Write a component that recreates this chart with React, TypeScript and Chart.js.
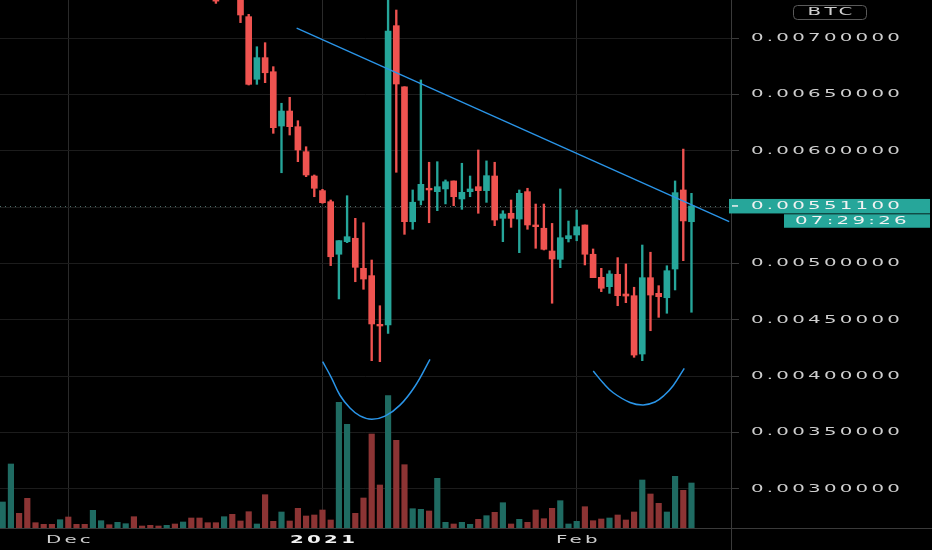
import React, { useEffect, useRef } from 'react';
import { Chart, registerables } from 'chart.js';

Chart.register(...registerables);

// ---- data (day index 0 = 1 Dec 2020) ----
const volumeStartDay = -8;
const volumes = [
  26, 64, 14.7, 29.7, 5.3, 3.7, 3.7, 8.3,
  11, 3.7, 3.7, 17.7, 7.3, 3.3, 5.7, 4.3, 11.3, 2,
  2.7, 2, 2.7, 4, 6, 10, 10, 5.3, 5.3, 11.3,
  13.7, 7, 16.3, 4, 33.3, 6.7, 16, 7, 19.7, 12,
  13, 18, 8, 125.7, 103.7, 14.7, 30, 94, 43, 132.3,
  87.7, 63.3, 19.3, 18.7, 17, 49.7, 5.7, 4, 5.7, 3.7,
  8.7, 12.3, 15.7, 25.3, 4, 8.7, 5.7, 18, 9.3, 19.7,
  27.3, 4, 6.7, 21.3, 7.3, 9, 10, 13, 8, 16,
  48, 34, 24.7, 16, 51.7, 37.7, 45,
];
const volumeUp = [
  1, 1, 0, 0, 0, 0, 0, 1,
  0, 0, 0, 1, 1, 0, 1, 1, 0, 0,
  0, 0, 1, 0, 1, 0, 0, 0, 0, 1,
  0, 0, 0, 1, 0, 0, 1, 0, 0, 0,
  0, 0, 0, 1, 1, 0, 0, 0, 0, 1,
  0, 0, 1, 1, 0, 1, 1, 0, 1, 1,
  0, 1, 0, 1, 0, 1, 0, 0, 0, 0,
  1, 1, 1, 0, 0, 0, 1, 0, 0, 0,
  1, 0, 0, 1, 1, 0, 1,
];

const candleStartDay = 18;
const opens = [
  0.00745, 0.00738, 0.00755, 0.0074, 0.007192, 0.006636, 0.006828, 0.006703, 0.006221, 0.006354,
  0.006215, 0.005993, 0.005777, 0.005647, 0.005549, 0.005082, 0.005194, 0.005224, 0.004957, 0.004892,
  0.00446, 0.004454, 0.007112, 0.00657, 0.005371, 0.005561, 0.005668, 0.005638, 0.005662, 0.005733,
  0.005573, 0.005638, 0.005682, 0.005647, 0.005777, 0.005401, 0.005446, 0.005395, 0.005638, 0.005342,
  0.005313, 0.005111, 0.005037, 0.00522, 0.005253, 0.005342, 0.005082, 0.004877, 0.004794, 0.004904,
  0.004729, 0.004714, 0.004196, 0.004874, 0.004735, 0.004696, 0.004951, 0.005653, 0.005371,
];
const highs = [
  0.0075, 0.0077, 0.00762, 0.00742, 0.007213, 0.006925, 0.006961, 0.006748, 0.006423, 0.006476,
  0.006268, 0.006037, 0.005786, 0.005659, 0.005564, 0.005203, 0.005602, 0.005401, 0.005362, 0.005031,
  0.004625, 0.00745, 0.007251, 0.00657, 0.005653, 0.00663, 0.005899, 0.005904, 0.005742, 0.005733,
  0.00589, 0.005777, 0.006008, 0.005911, 0.005899, 0.005469, 0.005564, 0.005653, 0.005668, 0.005528,
  0.005528, 0.005356, 0.005662, 0.005377, 0.005475, 0.005342, 0.005129, 0.004957, 0.004936, 0.005052,
  0.004996, 0.004789, 0.005164, 0.0051, 0.004803, 0.00498, 0.005733, 0.006016, 0.005623,
];
const lows = [
  0.00731, 0.00736, 0.00737, 0.007139, 0.006585, 0.006591, 0.006606, 0.006156, 0.005806, 0.006141,
  0.005904, 0.005771, 0.005593, 0.005535, 0.004981, 0.004685, 0.005185, 0.004838, 0.004771, 0.004137,
  0.004128, 0.00438, 0.00581, 0.005259, 0.005304, 0.00552, 0.005362, 0.005469, 0.005529, 0.005513,
  0.005481, 0.005593, 0.005446, 0.005543, 0.005336, 0.005194, 0.005321, 0.005096, 0.005304, 0.005135,
  0.00512, 0.004647, 0.004963, 0.005191, 0.005202, 0.004987, 0.004874, 0.00475, 0.004735, 0.004625,
  0.004652, 0.004167, 0.004137, 0.004403, 0.004522, 0.004558, 0.004765, 0.005025, 0.004567,
];
const closes = [
  0.00733, 0.00755, 0.0074, 0.007207, 0.006591, 0.006828, 0.006694, 0.006206, 0.006354, 0.006215,
  0.006008, 0.005786, 0.005668, 0.00554, 0.00506, 0.005203, 0.005238, 0.004966, 0.004862, 0.004463,
  0.004445, 0.007065, 0.006594, 0.005371, 0.005544, 0.005703, 0.005653, 0.005682, 0.005726, 0.005593,
  0.005632, 0.005662, 0.005647, 0.00578, 0.005386, 0.00544, 0.005401, 0.005623, 0.005342, 0.005327,
  0.005126, 0.00504, 0.005229, 0.005247, 0.005327, 0.005082, 0.004874, 0.00478, 0.004907, 0.004714,
  0.004711, 0.004187, 0.004874, 0.00472, 0.004705, 0.004936, 0.005629, 0.005378, 0.005511,
];

const priceTicks = [0.003, 0.0035, 0.004, 0.0045, 0.005, 0.0055, 0.006, 0.0065, 0.007];
const hiddenPriceLabels = [0.0055];
const xTickDays = [0, 31, 62];
const xTickLabels = ['Dec', '2021', 'Feb'];
const lastPrice = 0.005511;
const lastPriceLabel = '0.00551100';
const countdownLabel = '07:29:26';
const currencyLabel = 'BTC';

const trendLine = [
  { x: 27.85, y: 0.007091 },
  { x: 80.6, y: 0.005371 },
];
const leftCurve = [
  { x: 31.02, y: 0.004128 },
  { x: 32.08, y: 0.003987 },
  { x: 33.13, y: 0.00383 },
  { x: 34.35, y: 0.003717 },
  { x: 35.57, y: 0.003646 },
  { x: 37.0, y: 0.003616 },
  { x: 38.62, y: 0.003644 },
  { x: 40.45, y: 0.003742 },
  { x: 42.28, y: 0.00391 },
  { x: 44.11, y: 0.004149 },
];
const rightCurve = [
  { x: 64.02, y: 0.004045 },
  { x: 65.21, y: 0.003941 },
  { x: 66.46, y: 0.003852 },
  { x: 68.5, y: 0.003766 },
  { x: 70.12, y: 0.003744 },
  { x: 71.55, y: 0.00377 },
  { x: 72.62, y: 0.003825 },
  { x: 73.78, y: 0.003917 },
  { x: 75.12, y: 0.004069 },
];

const xMin = -8.33;
const xMax = 80.82;
const yMin = 0.002651;
const yMax = 0.00734;
const volMax = 528;

// ---- styles ----
const BG = '#000000';
const UP = '#26a69a';
const DOWN = '#ef5350';
const VOL_UP = '#1f6b62';
const VOL_DOWN = '#8c3434';
const BLUE = '#2a95e8';
const GRID = '#1c1c1c';
const VGRID = '#2a2a2a';
const AXIS_LINE = '#3a3a3a';
const LABEL = '#cfcfcf';
const FONT = '"DejaVu Sans", sans-serif';
const SX = 1.8;
const LS = 1.8;

function drawStretched(
  ctx: CanvasRenderingContext2D,
  text: string,
  x: number,
  y: number,
  align: 'left' | 'center',
  font: string,
  color: string
) {
  ctx.save();
  ctx.font = font;
  (ctx as any).letterSpacing = '0px';
  const raw = ctx.measureText(text).width + LS * (text.length - 1);
  const w = raw * SX;
  const left = align === 'center' ? x - w / 2 : x;
  (ctx as any).letterSpacing = LS + 'px';
  ctx.fillStyle = color;
  ctx.textAlign = 'left';
  ctx.textBaseline = 'middle';
  ctx.translate(left, y);
  ctx.scale(SX, 1);
  ctx.fillText(text, 0, 0);
  ctx.restore();
}

const overlayPlugin = {
  id: 'overlay',
  beforeDraw(chart: any) {
    const { ctx, width, height } = chart;
    ctx.save();
    ctx.fillStyle = BG;
    ctx.fillRect(0, 0, width, height);
    ctx.restore();
  },
  beforeDatasetsDraw(chart: any) {
    const { ctx, chartArea } = chart;
    const y = Math.round(chart.scales.y.getPixelForValue(lastPrice)) + 0.5;
    ctx.save();
    ctx.strokeStyle = '#4f726d';
    ctx.lineWidth = 1;
    ctx.setLineDash([1, 4]);
    ctx.beginPath();
    ctx.moveTo(chartArea.left, y);
    ctx.lineTo(chartArea.right, y);
    ctx.stroke();
    ctx.restore();
  },
  afterDraw(chart: any) {
    const { ctx, chartArea: ca, width, height } = chart;
    const xs = chart.scales.x;
    const ys = chart.scales.y;
    ctx.save();
    ctx.strokeStyle = AXIS_LINE;
    ctx.lineWidth = 1;
    ctx.beginPath();
    ctx.moveTo(Math.round(ca.right) + 0.5, 0);
    ctx.lineTo(Math.round(ca.right) + 0.5, height);
    ctx.moveTo(0, Math.round(ca.bottom) + 0.5);
    ctx.lineTo(width, Math.round(ca.bottom) + 0.5);
    ctx.stroke();
    ctx.restore();

    const labelX = ca.right + 20;
    priceTicks.forEach((v) => {
      if (hiddenPriceLabels.includes(v)) return;
      drawStretched(ctx, v.toFixed(8), labelX, ys.getPixelForValue(v), 'left', `11px ${FONT}`, LABEL);
    });
    xTickDays.forEach((d, i) => {
      const isYear = /^\d+$/.test(xTickLabels[i]);
      drawStretched(
        ctx,
        xTickLabels[i],
        xs.getPixelForValue(d),
        ca.bottom + 12,
        'center',
        isYear ? `bold 11px ${FONT}` : `11px ${FONT}`,
        isYear ? '#f2f2f2' : LABEL
      );
    });

    // last price label
    const py = ys.getPixelForValue(lastPrice);
    ctx.save();
    ctx.fillStyle = UP;
    ctx.fillRect(ca.right - 2, py - 7, width - ca.right, 14.5);
    ctx.fillRect(784, py + 8.3, width - 2 - 784, 13.5);
    ctx.strokeStyle = '#f0f0f0';
    ctx.lineWidth = 1.5;
    ctx.beginPath();
    ctx.moveTo(ca.right + 1, py);
    ctx.lineTo(ca.right + 7, py);
    ctx.stroke();
    ctx.restore();
    drawStretched(ctx, lastPriceLabel, labelX, py, 'left', `11px ${FONT}`, '#f2f2f2');
    drawStretched(ctx, countdownLabel, 795, py + 15, 'left', `11px ${FONT}`, '#f2f2f2');

    // currency badge
    ctx.save();
    ctx.strokeStyle = '#5a5a5a';
    ctx.lineWidth = 1;
    ctx.beginPath();
    (ctx as any).roundRect(793.5, 5.5, 73, 14, 4);
    ctx.stroke();
    ctx.restore();
    drawStretched(ctx, currencyLabel, 830, 12.5, 'center', `11px ${FONT}`, LABEL);
  },
};

export default function App() {
  const ref = useRef<HTMLCanvasElement>(null);

  useEffect(() => {
    document.body.style.margin = '0';
    document.body.style.background = BG;
    const canvas = ref.current;
    if (!canvas) return;

    const volumeData = volumes.map((v, i) => ({ x: volumeStartDay + i, y: v }));
    const volumeColors = volumeUp.map((u) => (u ? VOL_UP : VOL_DOWN));
    const wickData = opens.map((_, i) => ({ x: candleStartDay + i, y: [lows[i], highs[i]] }));
    const bodyData = opens.map((o, i) => ({ x: candleStartDay + i, y: [o, closes[i]] }));
    const candleColors = opens.map((o, i) => (closes[i] >= o ? UP : DOWN));

    const chart = new Chart(canvas, {
      type: 'bar',
      data: {
        datasets: [
          {
            type: 'line',
            data: trendLine,
            borderColor: BLUE,
            borderWidth: 1.3,
            pointRadius: 0,
            order: 1,
          } as any,
          {
            type: 'line',
            data: leftCurve,
            borderColor: BLUE,
            borderWidth: 1.5,
            pointRadius: 0,
            tension: 0.4,
            order: 1,
          } as any,
          {
            type: 'line',
            data: rightCurve,
            borderColor: BLUE,
            borderWidth: 1.5,
            pointRadius: 0,
            tension: 0.4,
            order: 1,
          } as any,
          {
            type: 'bar',
            data: bodyData,
            backgroundColor: candleColors,
            barThickness: 6,
            grouped: false,
            minBarLength: 1.5,
            borderWidth: 0,
            order: 2,
          } as any,
          {
            type: 'bar',
            data: wickData,
            backgroundColor: candleColors,
            barThickness: 1.7,
            grouped: false,
            borderWidth: 0,
            order: 3,
          } as any,
          {
            type: 'bar',
            data: volumeData,
            yAxisID: 'yv',
            backgroundColor: volumeColors,
            barThickness: 5.5,
            grouped: false,
            borderWidth: 0,
            order: 4,
          } as any,
        ],
      },
      options: {
        responsive: false,
        devicePixelRatio: 1,
        animation: false,
        events: [],
        layout: { padding: 0 },
        plugins: { legend: { display: false }, tooltip: { enabled: false } },
        scales: {
          x: {
            type: 'linear',
            min: xMin,
            max: xMax,
            offset: false,
            afterBuildTicks: (s: any) => {
              s.ticks = xTickDays.map((v) => ({ value: v }));
            },
            afterFit: (s: any) => {
              s.height = 22;
            },
            grid: { color: VGRID, drawTicks: false, offset: false, lineWidth: 1 },
            border: { display: false },
            ticks: { display: false },
          },
          y: {
            type: 'linear',
            position: 'right',
            min: yMin,
            max: yMax,
            afterBuildTicks: (s: any) => {
              s.ticks = priceTicks.map((v) => ({ value: v }));
            },
            afterFit: (s: any) => {
              s.width = 201;
            },
            grid: { color: GRID, tickColor: '#3a3a3a', tickLength: 8, drawTicks: true },
            border: { display: false },
            ticks: { display: false },
          },
          yv: {
            type: 'linear',
            display: false,
            min: 0,
            max: volMax,
          },
        },
      } as any,
      plugins: [overlayPlugin],
    });

    return () => chart.destroy();
  }, []);

  return (
    <div style={{ width: 932, height: 550, background: BG }}>
      <canvas ref={ref} width={932} height={550} style={{ display: 'block' }} />
    </div>
  );
}
